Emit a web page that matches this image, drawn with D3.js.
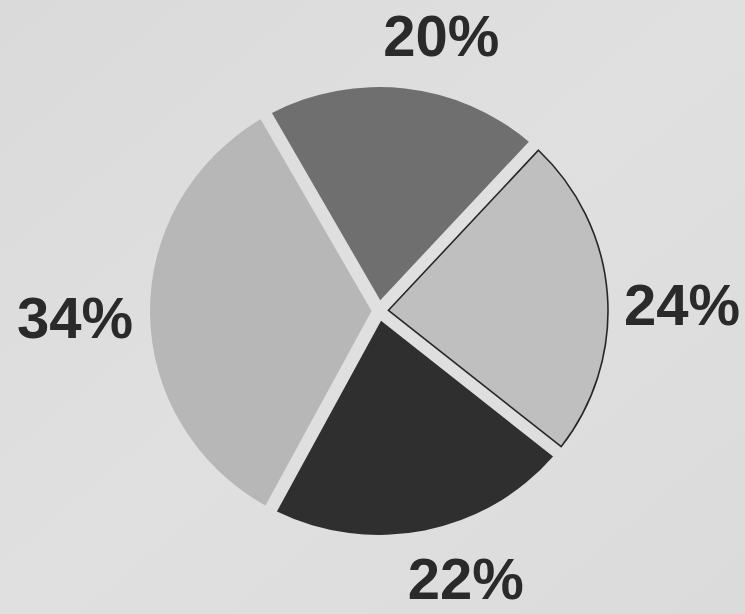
<!DOCTYPE html>
<html>
<head>
<meta charset="utf-8">
<script src="https://cdn.jsdelivr.net/npm/d3@7"></script>
<style>
  html, body { margin: 0; padding: 0; background: #dddddd; }
  svg { display: block; }
</style>
</head>
<body>
<svg id="chart" width="745" height="614"></svg>
<script>
// ---- data ----
const categories = ["A", "B", "C", "D"];
const values = [20, 24, 22, 34];
const labels = ["20%", "24%", "22%", "34%"];
const colors = ["#6f6f6f", "#bfbfbf", "#2f2f2f", "#b7b7b7"];
const outlined = [false, true, false, false];
// label nudges (layout only)
const labelNudge = [[29, 17], [9, 15], [28, -22], [-9, 3]];

// ---- layout ----
const W = 745, H = 614;
const cx = 379, cy = 311, R = 229;
const gap = 13;
const startDeg = -29.5;
const svg = d3.select("#chart");

const defs = svg.append("defs");
const grad = defs.append("linearGradient").attr("id", "bg")
  .attr("x1", "0").attr("y1", "0").attr("x2", "1").attr("y2", "1");
grad.append("stop").attr("offset", "0").attr("stop-color", "#dadada");
grad.append("stop").attr("offset", "0.5").attr("stop-color", "#e0e0e0");
grad.append("stop").attr("offset", "1").attr("stop-color", "#dbdbdb");
svg.append("rect").attr("width", W).attr("height", H).attr("fill", "url(#bg)");

const start = startDeg * Math.PI / 180;
const pie = d3.pie().sort(null).value(d => d.v)
  .startAngle(start).endAngle(start + 2 * Math.PI);
const arcs = pie(values.map((v, i) => ({ v, i })));

// slice with constant-width gaps (edges offset by gap/2, apex where they meet)
function slicePath(d) {
  const h = gap / 2;
  const a0 = d.startAngle, a1 = d.endAngle, th = a1 - a0;
  const mid = (a0 + a1) / 2;
  const apexR = h / Math.sin(th / 2);
  const da = Math.asin(h / R);
  const b0 = a0 + da, b1 = a1 - da;
  const p = d3.path();
  p.moveTo(apexR * Math.sin(mid), -apexR * Math.cos(mid));
  p.lineTo(R * Math.sin(b0), -R * Math.cos(b0));
  p.arc(0, 0, R, b0 - Math.PI / 2, b1 - Math.PI / 2, false);
  p.closePath();
  return p.toString();
}

const g = svg.append("g")
  .attr("transform", `translate(${cx},${cy}) scale(1,0.978)`);

g.selectAll("path.slice").data(arcs).join("path")
  .attr("class", "slice")
  .attr("d", slicePath)
  .attr("fill", d => colors[d.data.i])
  .attr("stroke", d => outlined[d.data.i] ? "#262626" : "none")
  .attr("stroke-width", 1.6)
  .attr("stroke-linejoin", "miter");

const labelArc = d3.arc().innerRadius(295).outerRadius(295);
svg.selectAll("text.lbl").data(arcs).join("text")
  .attr("class", "lbl")
  .attr("x", d => cx + labelArc.centroid(d)[0] + labelNudge[d.data.i][0])
  .attr("y", d => cy + labelArc.centroid(d)[1] + labelNudge[d.data.i][1])
  .attr("dy", "0.36em")
  .attr("text-anchor", "middle")
  .attr("font-family", "'Liberation Sans', Arial, sans-serif")
  .attr("font-weight", "bold")
  .attr("font-size", 58)
  .attr("fill", "#2a2a2a")
  .text(d => labels[d.data.i]);
</script>
</body>
</html>
